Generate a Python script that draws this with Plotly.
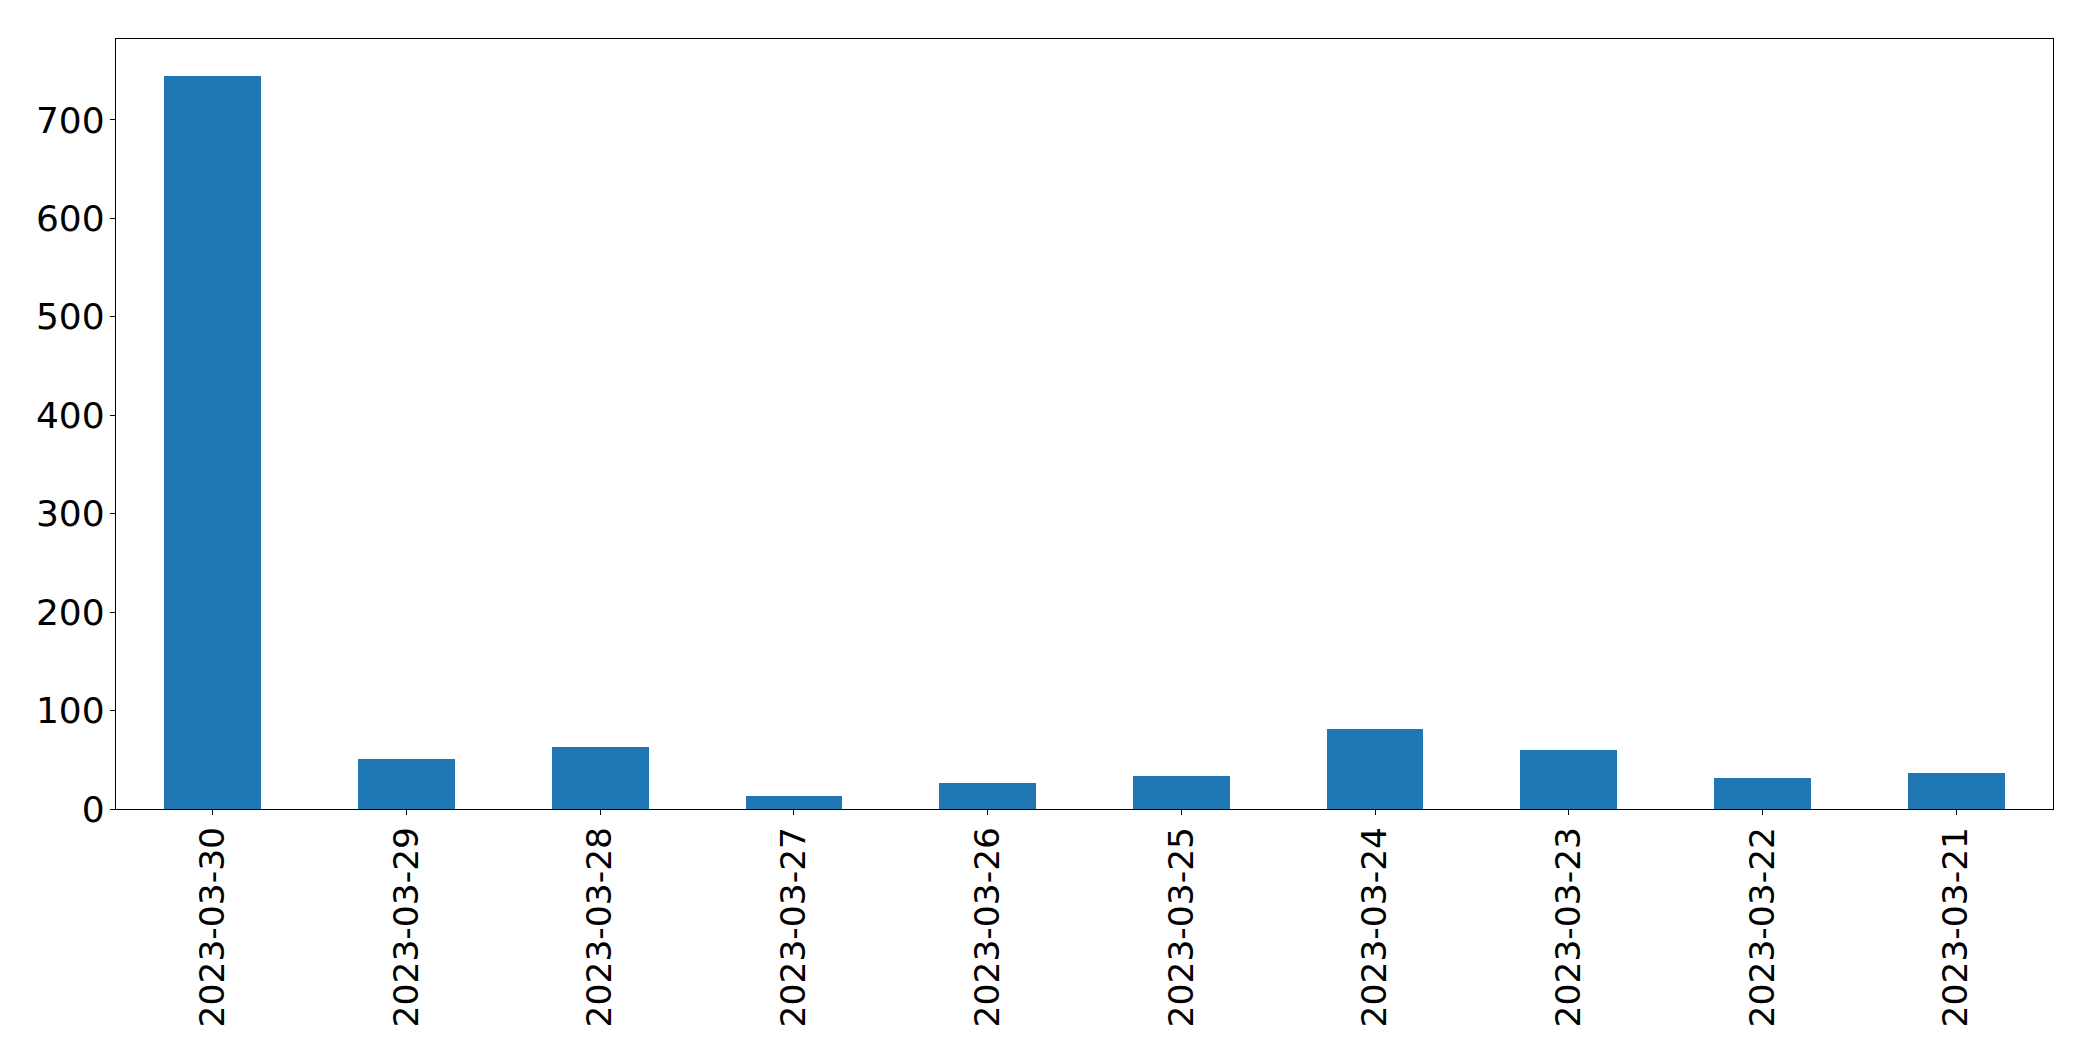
import plotly.graph_objects as go

categories = ["2023-03-30", "2023-03-29", "2023-03-28", "2023-03-27", "2023-03-26",
              "2023-03-25", "2023-03-24", "2023-03-23", "2023-03-22", "2023-03-21"]
values = [745, 51, 63, 13, 26, 34, 81, 60, 32, 37]
y_ticks = [0, 100, 200, 300, 400, 500, 600, 700]

fig = go.Figure(go.Bar(x=categories, y=values, width=0.5, marker=dict(color="#1f77b4", line=dict(width=0))))

xfont = dict(family="DejaVu Sans", size=34.5, color="black")
yfont = dict(family="DejaVu Sans", size=36, color="black")
fig.update_layout(
    width=2085, height=1053,
    margin=dict(l=108, r=40, t=31, b=252, pad=0),
    plot_bgcolor="white", paper_bgcolor="white",
    showlegend=False, bargap=0,
    font=xfont,
)
fig.update_xaxes(
    type="category", range=[-0.5, 9.5], tickangle=-90, automargin=False,
    showline=True, linecolor="black", linewidth=1.3, mirror=True,
    ticks="outside", ticklen=5, tickwidth=1.3, tickcolor="black",
    showgrid=False, zeroline=False, tickfont=xfont, ticklabelstandoff=-2,
)
fig.update_yaxes(
    range=[0, max(values) * 1.05], tickvals=y_ticks, automargin=False,
    showline=True, linecolor="black", linewidth=1.3, mirror=True,
    ticks="outside", ticklen=5, tickwidth=1.3, tickcolor="black",
    showgrid=False, zeroline=False, tickfont=yfont, ticklabelstandoff=-2,
)
fig.write_html("out.html")
